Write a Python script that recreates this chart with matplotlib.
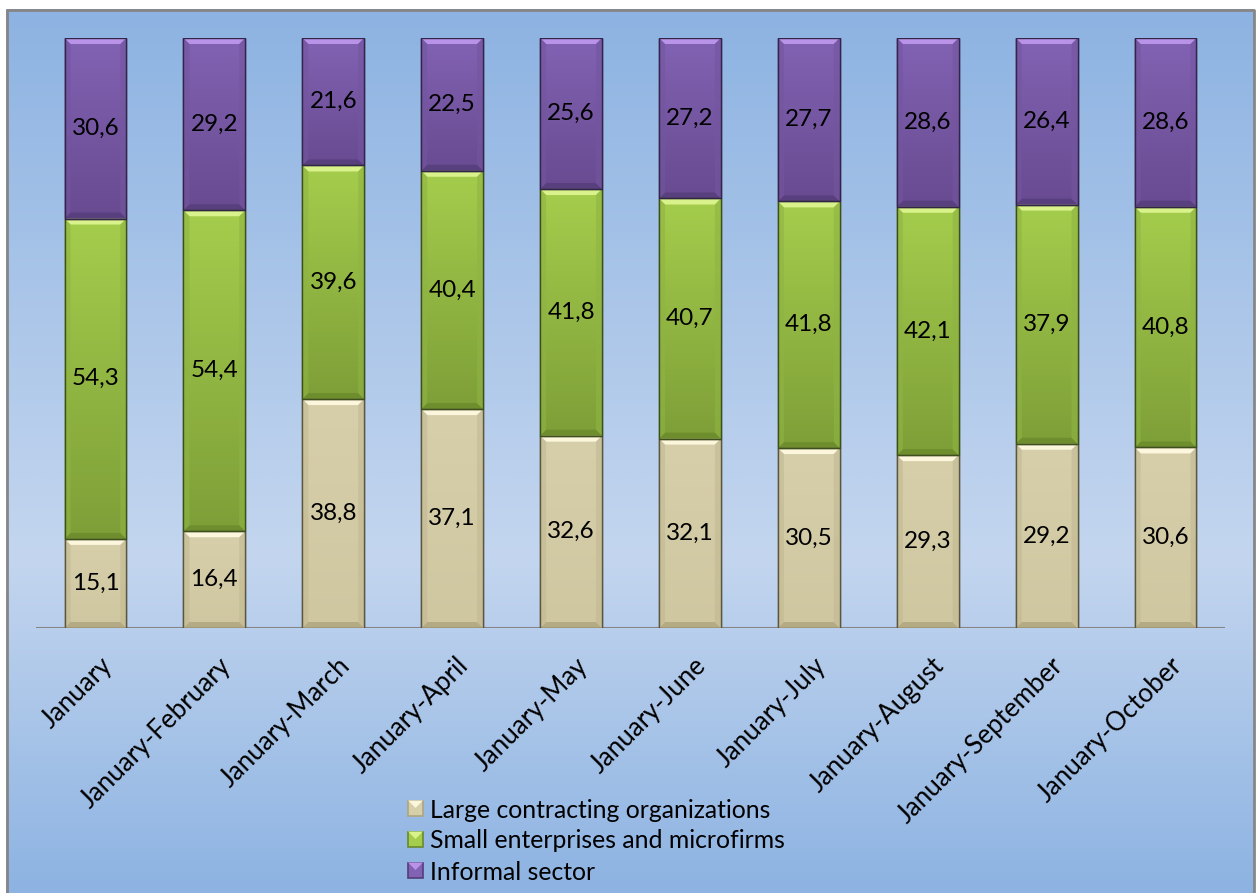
import numpy as np
import matplotlib
matplotlib.use("Agg")
import matplotlib.pyplot as plt
import matplotlib.transforms as mtransforms
from matplotlib.patches import Polygon, Rectangle
from matplotlib.colors import LinearSegmentedColormap

categories = ["January", "January-February", "January-March", "January-April",
              "January-May", "January-June", "January-July", "January-August",
              "January-September", "January-October"]
large = [15.1, 16.4, 38.8, 37.1, 32.6, 32.1, 30.5, 29.3, 29.2, 30.6]
small = [54.3, 54.4, 39.6, 40.4, 41.8, 40.7, 41.8, 42.1, 37.9, 40.8]
informal = [30.6, 29.2, 21.6, 22.5, 25.6, 27.2, 27.7, 28.6, 26.4, 28.6]
series_names = ["Large contracting organizations", "Small enterprises and microfirms", "Informal sector"]

FONT = ["Lato", "DejaVu Sans"]

# style per series: (top colour, bottom colour, top bevel, bottom bevel, side bevel, edge)
styles = [
    ("#d6cfaa", "#cfc7a0", "#fbf6dc", "#aea57e", "#c2b992", "#5a5640"),
    ("#a5cd4c", "#7e9f38", "#d9f28c", "#6a8a2c", "#8fb443", "#3d4f1a"),
    ("#8262b3", "#684b91", "#b993e8", "#553c7a", "#74559f", "#33244a"),
]

W, H = 1258, 893
fig = plt.figure(figsize=(W / 100, H / 100), dpi=100)
renderer = fig.canvas.get_renderer()


def fit_size(sample, target_px, base=15.0):
    t = fig.text(0, 0, sample, fontsize=base, family=FONT)
    w = t.get_window_extent(renderer=renderer).width
    t.remove()
    return base * target_px / w


tick_fs = fit_size("January-February", 200)
leg_fs = fit_size("Large contracting organizations", 342)
lab_fs = fit_size("30,6", 48)

# background gradient for chart area
bg = fig.add_axes([0, 0, 1, 1])
bg.axis("off")
bgcmap = LinearSegmentedColormap.from_list(
    "bg", [(0, "#8db3e2"), (0.62, "#c4d6ef"), (1.0, "#8db3e2")])
grad = np.linspace(0, 1, 256).reshape(-1, 1)
bg.imshow(grad, cmap=bgcmap, extent=[6, 1254, 893, 9], aspect="auto",
          interpolation="bicubic", zorder=0)
bg.set_xlim(0, W)
bg.set_ylim(H, 0)
bg.plot([6.5, 6.5, 1253.5, 1253.5], [893, 9.5, 9.5, 893], color="#868686", lw=2, zorder=2)

ax = fig.add_axes([36 / W, 1 - 628 / H, (1225 - 36) / W, (628 - 38) / H])
ax.patch.set_alpha(0)
x = np.arange(len(categories))
bw = 0.52

px_x = len(categories) / (1225 - 36)
px_y = 100 / (628 - 38)
bvx = 6 * px_x
bvy = 6 * px_y

data = [np.array(large), np.array(small), np.array(informal)]
totals = data[0] + data[1] + data[2]
bottoms = np.zeros(len(categories))

for s, vals in enumerate(data):
    ctop, cbot, btop, bbot, bside, edge = styles[s]
    cmap = LinearSegmentedColormap.from_list("c%d" % s, [cbot, ctop])
    heights = vals / totals * 100.0
    bars = ax.bar(x, heights, bw, bottom=bottoms, color=ctop, edgecolor=edge, linewidth=1.0, zorder=3)
    for i, rect in enumerate(bars):
        x0 = rect.get_x()
        x1 = x0 + rect.get_width()
        y0 = rect.get_y()
        y1 = y0 + rect.get_height()
        im = ax.imshow(np.linspace(0, 1, 64).reshape(-1, 1), cmap=cmap, origin="lower",
                       extent=[x0, x1, y0, y1], aspect="auto", zorder=3.1, interpolation="bilinear")
        im.set_clip_path(rect)
        ax.add_patch(Polygon([[x0, y1], [x1, y1], [x1 - bvx, y1 - bvy], [x0 + bvx, y1 - bvy]],
                             closed=True, facecolor=btop, edgecolor="none", zorder=3.2))
        ax.add_patch(Polygon([[x0, y0], [x1, y0], [x1 - bvx, y0 + bvy], [x0 + bvx, y0 + bvy]],
                             closed=True, facecolor=bbot, edgecolor="none", alpha=0.8, zorder=3.2))
        ax.add_patch(Polygon([[x0, y0], [x0, y1], [x0 + bvx, y1 - bvy], [x0 + bvx, y0 + bvy]],
                             closed=True, facecolor=bside, edgecolor="none", alpha=0.6, zorder=3.2))
        ax.add_patch(Polygon([[x1, y0], [x1, y1], [x1 - bvx, y1 - bvy], [x1 - bvx, y0 + bvy]],
                             closed=True, facecolor=bside, edgecolor="none", alpha=0.6, zorder=3.2))
        ax.add_patch(Rectangle((x0, y0), x1 - x0, y1 - y0, facecolor="none", edgecolor=edge,
                               linewidth=1.0, zorder=3.3))
        ax.text(x[i], y0 + heights[i] / 2, ("%.1f" % vals[i]).replace(".", ","),
                ha="center", va="center", fontsize=lab_fs, family=FONT, color="black", zorder=5)
    bottoms = bottoms + heights

ax.set_xlim(-0.5, len(categories) - 0.5)
ax.set_ylim(0, 100)

ax.axhline(0, color="#868686", lw=1.5, zorder=2)
for sp in ax.spines.values():
    sp.set_visible(False)
ax.set_yticks([])
ax.set_xticks(x)
ax.set_xticklabels(categories, rotation=45, ha="right", va="top", rotation_mode="anchor",
                   fontsize=tick_fs, family=FONT)
ax.tick_params(axis="x", length=0, pad=18)
offset = mtransforms.ScaledTranslation(4 / 100, 0, fig.dpi_scale_trans)
for lab in ax.get_xticklabels():
    lab.set_transform(lab.get_transform() + offset)

# legend (manual, in figure pixel coordinates of the legend box)
leg_rows_y = [808, 839, 870]
for k, name in enumerate(series_names):
    yc = leg_rows_y[k]
    bg.add_patch(Rectangle((408, yc - 7.5), 15, 15, facecolor=styles[k][0],
                           edgecolor=styles[k][3], linewidth=1.2, zorder=3))
    bg.add_patch(Polygon([[408, yc - 7.5], [423, yc - 7.5], [415.5, yc]], closed=True,
                         facecolor=styles[k][2], edgecolor="none", zorder=3.1))
    bg.text(430, yc, name, ha="left", va="center_baseline", fontsize=leg_fs, family=FONT,
            color="black", zorder=4)

fig.savefig("out.png", dpi=100)
